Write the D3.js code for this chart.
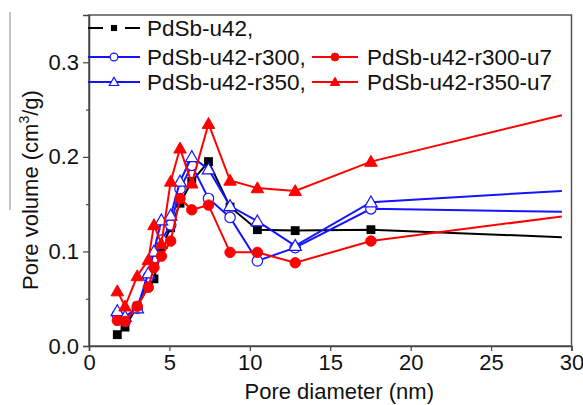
<!DOCTYPE html>
<html><head><meta charset="utf-8">
<script src="https://cdn.jsdelivr.net/npm/d3@7"></script>
<style>body{margin:0;background:#fff}svg{display:block}text{font-family:"Liberation Sans",Arial,sans-serif;fill:#111}</style>
</head><body><svg id="c" width="583" height="405"></svg>
<script>
const poreDiameter = [1.76, 2.24, 3.0, 3.69, 4.04, 4.5, 5.08, 5.66, 6.39, 7.43, 8.77, 10.47, 12.82, 17.53, 29.4];
const u42        = [0.012, 0.020, 0.042, 0.063, 0.071, 0.105, 0.125, 0.151, 0.174, 0.195, 0.147, 0.123, 0.122, 0.123, 0.115];
const u42r300    = [0.033, 0.026, 0.040, 0.073, 0.090, 0.112, 0.128, 0.166, 0.191, 0.156, 0.136, 0.090, 0.104, 0.145, 0.142];
const u42r350    = [0.037, 0.031, 0.040, 0.077, 0.100, 0.133, 0.138, 0.174, 0.200, 0.187, 0.148, 0.132, 0.106, 0.152, 0.164];
const u42r300u7  = [0.027, 0.026, 0.042, 0.062, 0.083, 0.095, 0.111, 0.156, 0.144, 0.149, 0.099, 0.099, 0.088, 0.111, 0.137];
const u42r350u7  = [0.058, 0.042, 0.074, 0.091, 0.128, 0.108, 0.174, 0.209, 0.172, 0.235, 0.175, 0.167, 0.164, 0.195, 0.244];
const seriesNames = ["PdSb-u42,", "PdSb-u42-r300,", "PdSb-u42-r350,", "PdSb-u42-r300-u7", "PdSb-u42-r350-u7"];
const xTicks = [0, 5, 10, 15, 20, 25, 30];
const yTicks = [0.0, 0.1, 0.2, 0.3];
const yMinor = [0.05, 0.15, 0.25];

const series = [
  {name: seriesNames[0], v: u42, color: "#000000", shape: "square", fill: true},
  {name: seriesNames[1], v: u42r300, color: "#1414ff", shape: "circle", fill: false},
  {name: seriesNames[2], v: u42r350, color: "#1414ff", shape: "triangle", fill: false},
  {name: seriesNames[3], v: u42r300u7, color: "#ff0000", shape: "circle", fill: true},
  {name: seriesNames[4], v: u42r350u7, color: "#ff0000", shape: "triangle", fill: true}
];

const svg = d3.select("#c");
const L = 89, R = 571.5, T = 15, B = 346;
const x = d3.scaleLinear().domain([0, 30]).range([L, R]);
const y = d3.scaleLinear().domain([0, 0.35]).range([B, T]);

// stray line at left edge
svg.append("line").attr("x1", 10).attr("x2", 10).attr("y1", 12).attr("y2", 210).attr("stroke", "#888").attr("stroke-width", 1);

// frame
svg.append("rect").attr("x", L).attr("y", T).attr("width", R - L).attr("height", B - T)
  .attr("fill", "none").attr("stroke", "#555").attr("stroke-width", 1.5);

const xAxis = d3.axisBottom(x).tickValues(xTicks).tickFormat(d3.format("d")).tickSizeOuter(0).tickSize(5).tickPadding(3);
const gx = svg.append("g").attr("transform", `translate(0,${B})`).call(xAxis);
gx.select(".domain").attr("stroke", "#444").attr("stroke-width", 1.5);
gx.selectAll(".tick line").attr("stroke", "#444").attr("stroke-width", 1.2);
gx.selectAll("text").style("font-size", "22px").attr("fill", "#111");

const yAxis = d3.axisLeft(y).tickValues(yTicks).tickFormat(d3.format(".1f")).tickSizeOuter(0).tickSize(6).tickPadding(4);
const gy = svg.append("g").attr("transform", `translate(${L},0)`).call(yAxis);
gy.select(".domain").attr("stroke", "#444").attr("stroke-width", 1.5);
gy.selectAll(".tick line").attr("stroke", "#444").attr("stroke-width", 1.2);
gy.selectAll("text").style("font-size", "22px").attr("fill", "#111");
const gym = svg.append("g").attr("transform", `translate(${L},0)`)
  .call(d3.axisLeft(y).tickValues(yMinor).tickFormat("").tickSizeOuter(0).tickSize(3));
gym.select(".domain").remove();
gym.selectAll(".tick line").attr("stroke", "#444").attr("stroke-width", 1.2);

svg.append("text").attr("x", (L + R) / 2 + 9).attr("y", 399).attr("text-anchor", "middle")
  .style("font-size", "22px").text("Pore diameter (nm)");
const yt = svg.append("text").attr("transform", `translate(38,190) rotate(-90)`).attr("text-anchor", "middle").style("font-size", "22px");
yt.append("tspan").text("Pore volume (cm");
yt.append("tspan").attr("dy", -9).style("font-size", "14px").text("3");
yt.append("tspan").attr("dy", 9).text("/g)");

function marker(g, shape, cx, cy, color, fill, s) {
  if (shape === "square") {
    g.append("rect").attr("x", cx - s * 0.85).attr("y", cy - s * 0.85).attr("width", s * 1.7).attr("height", s * 1.7)
      .attr("fill", color);
  } else if (shape === "circle") {
    g.append("circle").attr("cx", cx).attr("cy", cy).attr("r", s)
      .attr("fill", fill ? color : "#fff").attr("stroke", color).attr("stroke-width", fill ? 1 : 1.2);
  } else {
    const h = s * 1.2;
    g.append("path").attr("d", `M${cx},${cy - h}L${cx + h},${cy + h * 0.75}L${cx - h},${cy + h * 0.75}Z`)
      .attr("fill", fill ? color : "#fff").attr("stroke", color).attr("stroke-width", fill ? 1 : 1.2);
  }
}

const line = d3.line().x((d, i) => x(poreDiameter[i])).y(d => y(d));
series.forEach(s => {
  const g = svg.append("g");
  g.append("path").datum(s.v).attr("d", line).attr("fill", "none").attr("stroke", s.color).attr("stroke-width", 2);
  s.v.forEach((v, i) => {
    if (i < s.v.length - 1) marker(g, s.shape, x(poreDiameter[i]), y(v), s.color, s.fill, 5.2);
  });
});

// legend
const legendRows = [
  {s: 0, lx: 88, ly: 28, tx: 147},
  {s: 1, lx: 88, ly: 57, tx: 147},
  {s: 2, lx: 88, ly: 82, tx: 147},
  {s: 3, lx: 312, ly: 57, tx: 367},
  {s: 4, lx: 312, ly: 82, tx: 367}
];
legendRows.forEach(r => {
  const s = series[r.s];
  const g = svg.append("g");
  const w = r.lx === 88 ? 52 : 46;
  const mid = r.lx + w / 2;
  if (r.s === 0) {
    g.append("line").attr("x1", r.lx).attr("x2", mid - 11).attr("y1", r.ly).attr("y2", r.ly).attr("stroke", s.color).attr("stroke-width", 2);
    g.append("line").attr("x1", mid + 11).attr("x2", r.lx + w).attr("y1", r.ly).attr("y2", r.ly).attr("stroke", s.color).attr("stroke-width", 2);
    marker(g, s.shape, mid, r.ly, s.color, s.fill, 3.6);
  } else {
    g.append("line").attr("x1", r.lx).attr("x2", r.lx + w).attr("y1", r.ly).attr("y2", r.ly).attr("stroke", s.color).attr("stroke-width", 2);
    marker(g, s.shape, mid, r.ly, s.color, s.fill, 3.9);
  }
  g.append("text").attr("x", r.tx).attr("y", r.ly + 8).style("font-size", "22.5px").text(s.name);
});
</script></body></html>
